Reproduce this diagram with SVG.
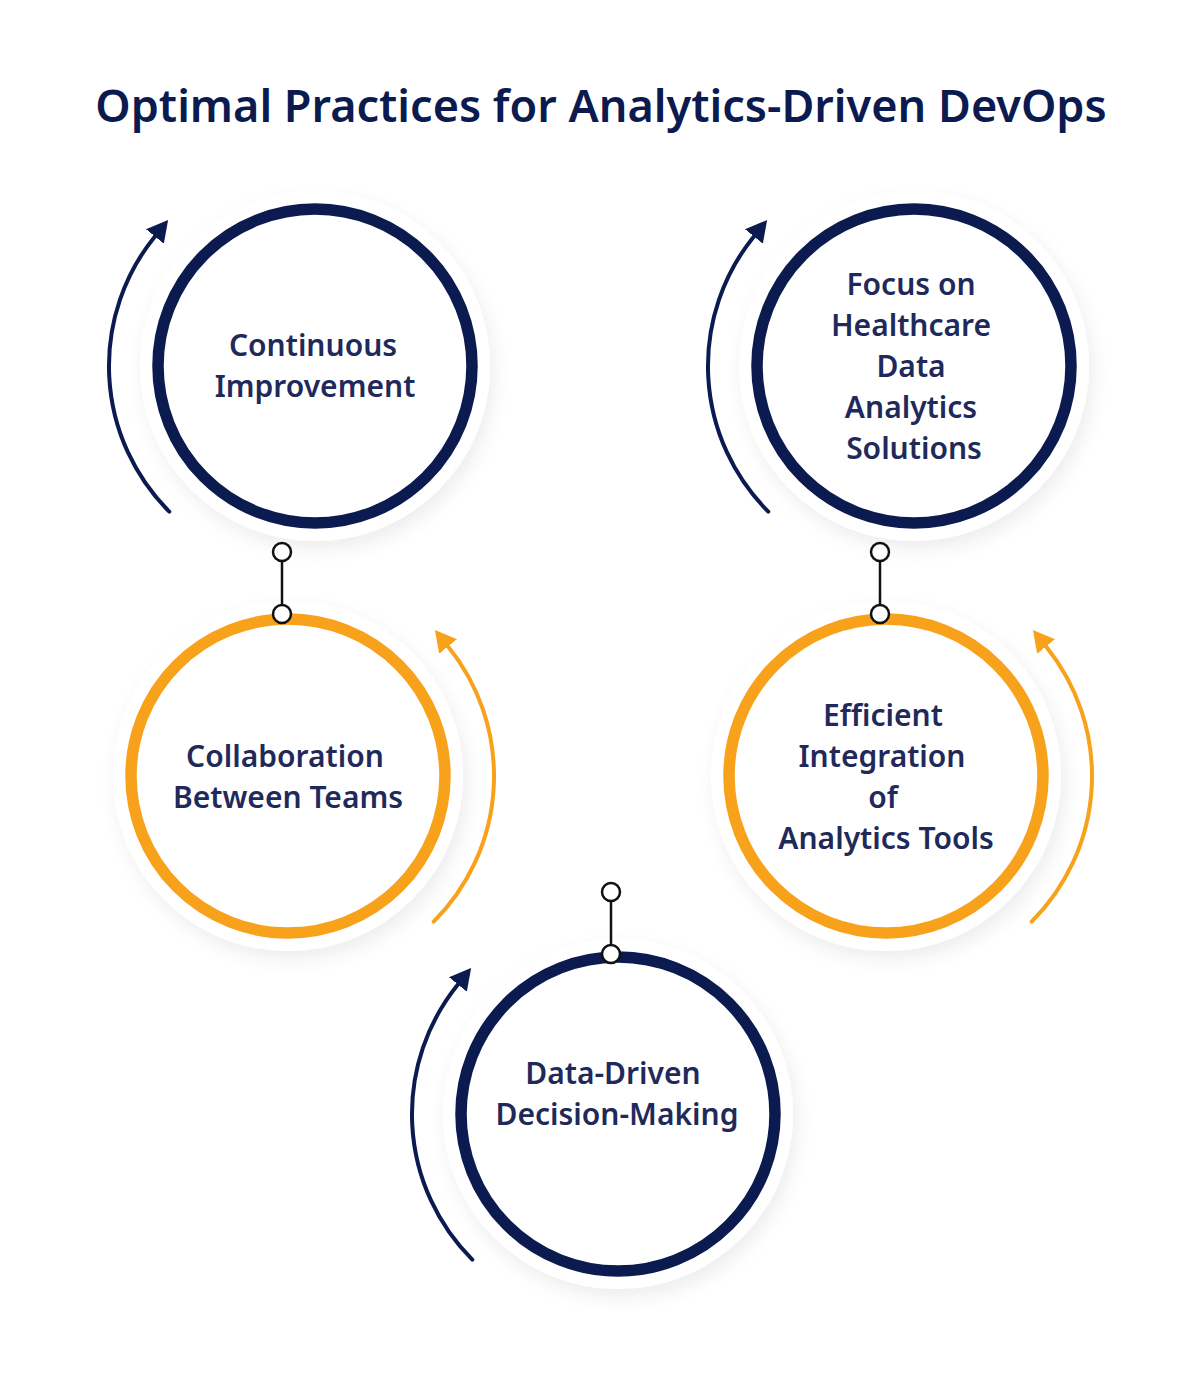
<svg xmlns="http://www.w3.org/2000/svg" width="1201" height="1374" viewBox="0 0 1201 1374">
<style>
.title{font-family:"Noto Sans","Open Sans","DejaVu Sans",sans-serif;font-weight:600;font-size:45px;fill:#0b1a4f;text-anchor:middle}
.lbl{font-family:"Noto Sans","Open Sans","DejaVu Sans",sans-serif;font-weight:600;font-size:30px;fill:#1f2a5b;text-anchor:middle}
.halo{fill:#fff;filter:url(#sh)}
.navy{fill:#fff;stroke:#0b1a4f;stroke-width:11.5}
.orange{fill:#fff;stroke:#f8a11b;stroke-width:11.5}
.arrN{fill:none;stroke:#0b1a4f;stroke-width:4;stroke-linecap:round;marker-end:url(#headN)}
.arrO{fill:none;stroke:#f8a11b;stroke-width:4;stroke-linecap:round;marker-end:url(#headO)}
.link{stroke:#111;stroke-width:2.5}
.dot{fill:#fff;stroke:#111;stroke-width:2.5}
</style>
<defs>
<filter id="sh" x="-30%" y="-30%" width="160%" height="160%">
<feDropShadow dx="4" dy="8" stdDeviation="9" flood-color="#000" flood-opacity="0.07"/>
</filter>
<marker id="headN" markerUnits="userSpaceOnUse" markerWidth="24" markerHeight="26" refX="0" refY="12" orient="auto" viewBox="0 0 24 24">
<path d="M0,0.5 L21,12 L0,23.5 z" fill="#0b1a4f"/>
</marker>
<marker id="headO" markerUnits="userSpaceOnUse" markerWidth="24" markerHeight="26" refX="0" refY="12" orient="auto" viewBox="0 0 24 24">
<path d="M0,0.5 L21,12 L0,23.5 z" fill="#f8a11b"/>
</marker>
</defs>
<rect width="1201" height="1374" fill="#fff"/>
<text class="title" x="601" y="122">Optimal Practices for Analytics-Driven DevOps</text>

<g id="halos">
<circle class="halo" cx="315" cy="366" r="175"/>
<circle class="halo" cx="914" cy="366" r="175"/>
<circle class="halo" cx="288" cy="776" r="175"/>
<circle class="halo" cx="886" cy="776" r="175"/>
<circle class="halo" cx="618" cy="1114" r="175"/>
</g>

<g id="node-continuous">
<circle class="navy" cx="315" cy="366" r="157"/>
<text class="lbl" x="313" y="356">Continuous</text>
<text class="lbl" x="315" y="397">Improvement</text>
</g>
<g id="node-focus">
<circle class="navy" cx="914" cy="366" r="157"/>
<text class="lbl" x="911" y="295">Focus on</text>
<text class="lbl" x="911" y="336">Healthcare</text>
<text class="lbl" x="911" y="377">Data</text>
<text class="lbl" x="911" y="418">Analytics</text>
<text class="lbl" x="914" y="459">Solutions</text>
</g>
<g id="node-collaboration">
<circle class="orange" cx="288" cy="776" r="157"/>
<text class="lbl" x="285" y="767">Collaboration</text>
<text class="lbl" x="288" y="808">Between Teams</text>
</g>
<g id="node-efficient">
<circle class="orange" cx="886" cy="776" r="157"/>
<text class="lbl" x="883" y="726">Efficient</text>
<text class="lbl" x="882" y="767">Integration</text>
<text class="lbl" x="883" y="808">of</text>
<text class="lbl" x="886" y="849">Analytics Tools</text>
</g>
<g id="node-datadriven">
<circle class="navy" cx="618" cy="1114" r="157"/>
<text class="lbl" x="613" y="1084">Data-Driven</text>
<text class="lbl" x="617" y="1125">Decision-Making</text>
</g>

<g id="connectors">
<path class="arrN" d="M169.3,511.7 A206,206 0 0 1 154.9,236.4"/>
<path class="arrN" d="M768.3,511.7 A206,206 0 0 1 753.9,236.4"/>
<path class="arrN" d="M472.3,1259.7 A206,206 0 0 1 457.9,984.4"/>
<path class="arrO" d="M433.7,921.7 A206,206 0 0 0 448.1,646.4"/>
<path class="arrO" d="M1031.7,921.7 A206,206 0 0 0 1046.1,646.4"/>
<line class="link" x1="282" y1="552" x2="282" y2="614"/>
<circle class="dot" cx="282" cy="552" r="9"/>
<circle class="dot" cx="282" cy="614" r="9"/>
<line class="link" x1="880" y1="552" x2="880" y2="614"/>
<circle class="dot" cx="880" cy="552" r="9"/>
<circle class="dot" cx="880" cy="614" r="9"/>
<line class="link" x1="611" y1="892" x2="611" y2="954"/>
<circle class="dot" cx="611" cy="892" r="9"/>
<circle class="dot" cx="611" cy="954" r="9"/>
</g>
</svg>
